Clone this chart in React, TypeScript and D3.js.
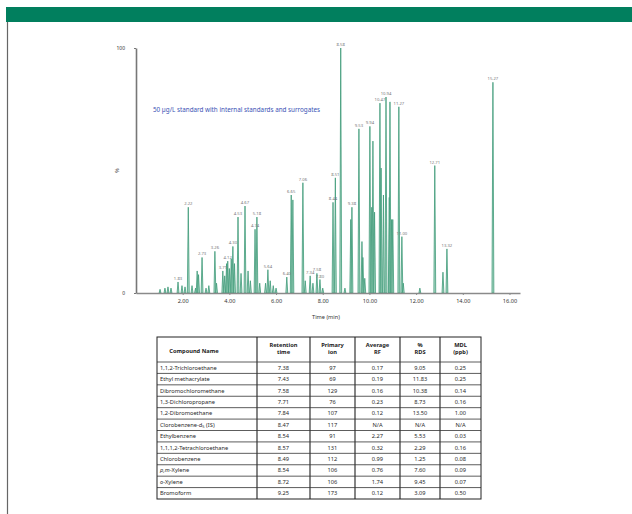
import { useEffect, useRef } from 'react';
import * as d3 from 'd3';

// chromatogram peaks: [retention time (min), abundance (%), label]
const peaks: [number, number, string][] = [
  [1.03, 1.5, ''], [1.24, 2, ''], [1.37, 2.5, ''], [1.5, 2, ''],
  [1.8, 4.5, '1.83'], [1.97, 3, ''], [2.1, 2.5, ''],
  [2.24, 35, '2.22'], [2.4, 3, ''], [2.55, 2, ''],
  [2.62, 9, ''], [2.68, 7.5, ''], [2.83, 14.5, '2.73'],
  [3.0, 2, ''], [3.12, 3, ''],
  [3.38, 17, '3.26'], [3.45, 4, ''],
  [3.72, 9, '3.71'], [3.8, 7, ''], [3.88, 12, ''],
  [3.93, 13, '4.12'], [4.0, 10, ''], [4.08, 14, ''], [4.15, 19, '4.30'], [4.22, 12, ''],
  [4.37, 31, '4.53'], [4.5, 8, ''], [4.67, 35.5, '4.67'], [4.8, 9, ''], [4.9, 5, ''],
  [5.1, 26, '4.74'], [5.18, 31, '5.18'], [5.3, 4, ''],
  [5.55, 4, ''], [5.65, 9.5, '5.64'], [5.75, 5, ''], [5.88, 3, ''], [6.0, 2, ''],
  [6.46, 6.5, '6.40'], [6.65, 40, '6.65'], [6.72, 38, ''],
  [7.15, 45, '7.06'], [7.25, 5, ''],
  [7.46, 7, '7.34'], [7.58, 4, ''], [7.75, 8, '7.58'], [7.88, 5.5, '7.80'],
  [8.0, 2, ''],
  [8.44, 37, '8.44'], [8.54, 47, '8.51'], [8.77, 100, '8.58'],
  [8.95, 2, ''],
  [9.2, 30, ''], [9.25, 35, '9.38'],
  [9.55, 67, '9.53'],
  [9.68, 21, ''], [9.72, 14.5, ''], [9.8, 6, ''],
  [10.02, 68, '9.94'], [10.1, 35, ''], [10.15, 62, ''], [10.22, 33, ''],
  [10.45, 77.5, '10.47'], [10.5, 51, ''], [10.6, 40, ''],
  [10.71, 80, '10.94'], [10.85, 39, ''], [10.88, 78, ''], [10.95, 30, ''], [11.0, 30, ''],
  [11.26, 76, '11.27'], [11.39, 23, '11.00'], [11.45, 4, ''],
  [12.16, 2, ''],
  [12.8, 52, '12.71'],
  [13.15, 8.5, ''], [13.32, 18, '13.32'],
  [15.29, 86, '15.27'],
];

const xTicks = [2, 4, 6, 8, 10, 12, 14, 16];
const yTicks = [0, 100];

const headers = [
  ['Compound Name'],
  ['Retention', 'time'],
  ['Primary', 'ion'],
  ['Average', 'RF'],
  ['%', 'RDS'],
  ['MDL', '(ppb)'],
];
const compounds = [
  '1,1,2-Trichloroethane',
  'Ethyl methacrylate',
  'Dibromochloromethane',
  '1,3-Dichloropropane',
  '1,2-Dibromoethane',
  'Clorobenzene-d5 (IS)',
  'Ethylbenzene',
  '1,1,1,2-Tetrachloroethane',
  'Chlorobenzene',
  'p,m-Xylene',
  'o-Xylene',
  'Bromoform',
];
const retentionTimes = ['7.38', '7.43', '7.58', '7.71', '7.84', '8.47', '8.54', '8.57', '8.49', '8.54', '8.72', '9.25'];
const primaryIons = ['97', '69', '129', '76', '107', '117', '91', '131', '112', '106', '106', '173'];
const averageRF = ['0.17', '0.19', '0.16', '0.23', '0.12', 'N/A', '2.27', '0.32', '0.99', '0.76', '1.74', '0.12'];
const rdsPercent = ['9.05', '11.83', '10.38', '8.73', '13.50', 'N/A', '5.53', '2.29', '1.25', '7.60', '9.45', '3.09'];
const mdlPpb = ['0.25', '0.25', '0.14', '0.16', '1.00', 'N/A', '0.03', '0.16', '0.08', '0.09', '0.07', '0.50'];

const FONT = '"Noto Sans", "Open Sans", sans-serif';

const App = () => {
  const svgRef = useRef<SVGSVGElement>(null);

  useEffect(() => {
    const svg = d3.select(svgRef.current);
    svg.selectAll('*').remove();

    // page frame: green band and left rule
    svg.append('rect').attr('x', 6).attr('y', 7).attr('width', 626).attr('height', 15).attr('fill', '#017f5e');
    svg.append('line').attr('x1', 7.5).attr('x2', 7.5).attr('y1', 22).attr('y2', 514)
      .attr('stroke', '#666').attr('stroke-width', 1.2);

    // scales
    const x = d3.scaleLinear().domain([0, 16.45]).range([136, 520]);
    const y = d3.scaleLinear().domain([0, 100]).range([293, 48]);

    // peaks
    const hw = 0.04;
    const area = d3.area<[number, number]>()
      .x(d => x(d[0]))
      .y0(y(0))
      .y1(d => y(d[1]));

    const g = svg.append('g');
    g.selectAll('path.peak')
      .data(peaks)
      .join('path')
      .attr('class', 'peak')
      .attr('d', d => area([[d[0] - hw, 0], [d[0], d[1]], [d[0] + hw, 0]]))
      .attr('fill', '#9ccfb9')
      .attr('fill-opacity', 0.8)
      .attr('stroke', '#3f9a79')
      .attr('stroke-width', 0.8);

    g.selectAll('text.plabel')
      .data(peaks.filter(d => d[2] !== ''))
      .join('text')
      .attr('class', 'plabel')
      .attr('x', d => x(d[0]))
      .attr('y', d => y(d[1]) - 2)
      .attr('text-anchor', 'middle')
      .attr('font-family', FONT)
      .attr('font-size', 4.2)
      .attr('fill', '#777')
      .text(d => d[2]);

    // x axis
    const xAxis = svg.append('g')
      .attr('transform', `translate(0, ${y(0)})`)
      .call(d3.axisBottom(x).tickValues(xTicks).tickFormat(d3.format('.2f')).tickSize(2).tickSizeOuter(0).tickPadding(4));
    xAxis.select('.domain').attr('stroke', '#8a8a8a').attr('stroke-width', 1.4);
    xAxis.selectAll('.tick line').attr('stroke', '#8a8a8a');
    xAxis.selectAll('text').attr('font-family', FONT).attr('font-size', 5.6).attr('fill', '#333');

    // y axis
    const yAxis = svg.append('g')
      .attr('transform', `translate(${x(0)}, 0)`)
      .call(d3.axisLeft(y).tickValues(yTicks).tickFormat(d3.format('d')).tickSize(2).tickSizeOuter(0).tickPadding(9));
    yAxis.select('.domain').attr('stroke', '#777').attr('stroke-width', 1.6);
    yAxis.selectAll('.tick line').attr('stroke', '#777');
    yAxis.selectAll('text').attr('font-family', FONT).attr('font-size', 5).attr('fill', '#333');

    svg.append('text')
      .attr('transform', `translate(119, ${y(50)}) rotate(-90)`)
      .attr('text-anchor', 'middle')
      .attr('font-family', FONT)
      .attr('font-size', 5.5)
      .attr('fill', '#333')
      .text('%');

    svg.append('text')
      .attr('x', (x(0) + x(16.45)) / 2 - 2)
      .attr('y', 319)
      .attr('text-anchor', 'middle')
      .attr('font-family', FONT)
      .attr('font-size', 5.6)
      .attr('fill', '#333')
      .text('Time (min)');

    svg.append('text')
      .attr('x', 153)
      .attr('y', 112)
      .attr('font-family', FONT)
      .attr('font-size', 6.3)
      .attr('fill', '#3a52b5')
      .text('50 µg/L standard with internal standards and surrogates');

    // table
    const colEdges = [157, 257, 310, 355, 400, 440, 481];
    const top = 337;
    const headBottom = 362;
    const bottom = 499;
    const rowY = d3.scaleBand<number>().domain(d3.range(compounds.length)).range([headBottom, bottom]);
    const columns = [compounds, retentionTimes, primaryIons, averageRF, rdsPercent, mdlPpb];

    const t = svg.append('g').attr('font-family', FONT).attr('font-size', 5.7).attr('fill', '#2a2a2a');

    // row rules
    t.selectAll('line.row')
      .data(d3.range(compounds.length))
      .join('line')
      .attr('class', 'row')
      .attr('x1', colEdges[0]).attr('x2', colEdges[6])
      .attr('y1', d => rowY(d)!).attr('y2', d => rowY(d)!)
      .attr('stroke', '#333').attr('stroke-width', 0.8);

    // column rules
    t.selectAll('line.col')
      .data(colEdges.slice(1, -1))
      .join('line')
      .attr('class', 'col')
      .attr('x1', d => d).attr('x2', d => d)
      .attr('y1', top).attr('y2', bottom)
      .attr('stroke', '#333').attr('stroke-width', 1.2);

    t.append('rect')
      .attr('x', colEdges[0]).attr('y', top)
      .attr('width', colEdges[6] - colEdges[0]).attr('height', bottom - top)
      .attr('fill', 'none').attr('stroke', '#222').attr('stroke-width', 1);

    // header
    headers.forEach((lines, ci) => {
      const cx = ci === 0 ? 194 : (colEdges[ci] + colEdges[ci + 1]) / 2;
      const y0 = lines.length === 1 ? 352.5 : 347;
      lines.forEach((ln, li) => {
        t.append('text')
          .attr('x', cx)
          .attr('y', y0 + li * 7)
          .attr('text-anchor', 'middle')
          .attr('font-weight', 'bold')
          .attr('fill', '#222')
          .text(ln);
      });
    });

    // cells
    columns.forEach((col, ci) => {
      col.forEach((val, ri) => {
        const yy = rowY(ri)! + rowY.bandwidth() / 2 + 2;
        const txt = t.append('text').attr('y', yy);
        if (ci === 0) {
          txt.attr('x', colEdges[0] + 3);
          if (val === 'Clorobenzene-d5 (IS)') {
            txt.append('tspan').text('Clorobenzene-d');
            txt.append('tspan').attr('font-size', 4).attr('dy', 1.2).text('5');
            txt.append('tspan').attr('dy', -1.2).text(' (IS)');
          } else if (val === 'p,m-Xylene') {
            txt.append('tspan').attr('font-style', 'italic').text('p,m');
            txt.append('tspan').text('-Xylene');
          } else if (val === 'o-Xylene') {
            txt.append('tspan').attr('font-style', 'italic').text('o');
            txt.append('tspan').text('-Xylene');
          } else {
            txt.text(val);
          }
        } else {
          txt.attr('x', (colEdges[ci] + colEdges[ci + 1]) / 2).attr('text-anchor', 'middle').text(val);
        }
      });
    });
  }, []);

  return (
    <svg ref={svgRef} width={632} height={514} style={{ position: 'absolute', left: 0, top: 0, background: '#fff' }}></svg>
  );
};

export default App;
